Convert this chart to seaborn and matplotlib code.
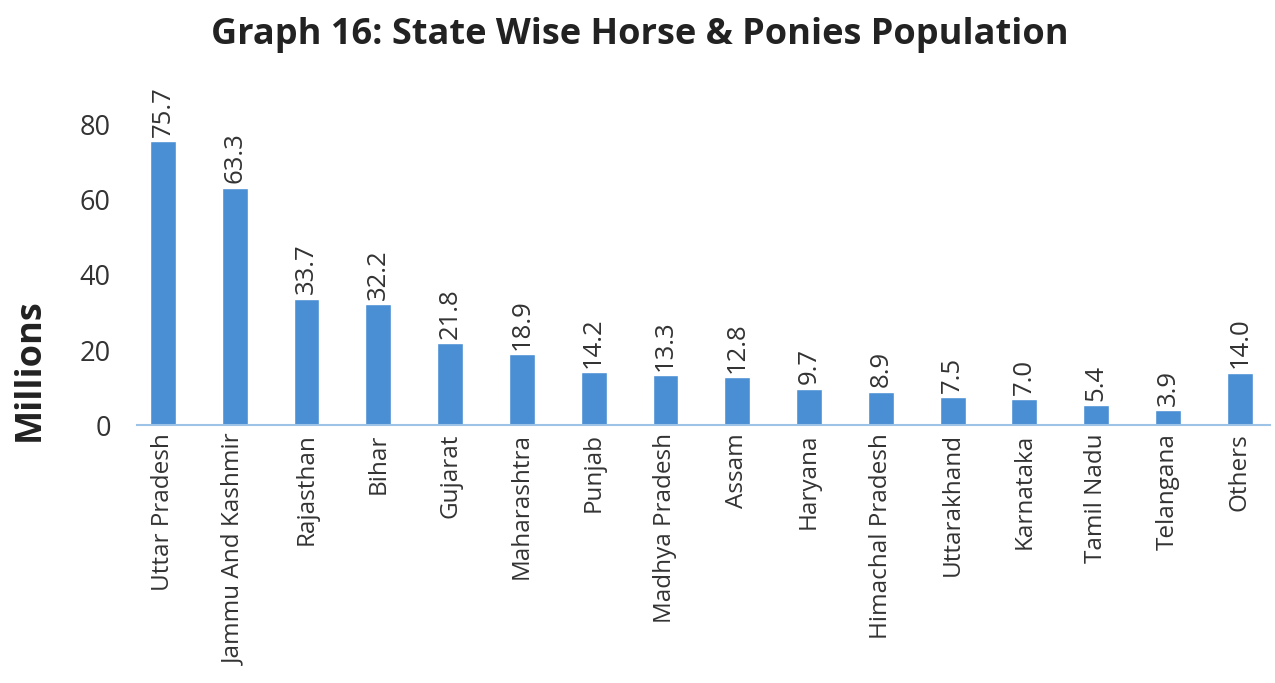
import matplotlib
matplotlib.use("Agg")
import matplotlib.pyplot as plt
import seaborn as sns
import pandas as pd

states = ["Uttar Pradesh", "Jammu And Kashmir", "Rajasthan", "Bihar", "Gujarat",
          "Maharashtra", "Punjab", "Madhya Pradesh", "Assam", "Haryana",
          "Himachal Pradesh", "Uttarakhand", "Karnataka", "Tamil Nadu",
          "Telangana", "Others"]
values = [75.7, 63.3, 33.7, 32.2, 21.8, 18.9, 14.2, 13.3, 12.8, 9.7, 8.9, 7.5,
          7.0, 5.4, 3.9, 14.0]
yticks = [0, 20, 40, 60, 80]

df = pd.DataFrame({"State": states, "Value": values})

sns.set_theme(style="white")
plt.rcParams['font.family'] = ['Open Sans', 'DejaVu Sans']

fig = plt.figure(figsize=(12.75, 6.83), dpi=100)
ax = fig.add_axes([0.1075, 0.3777, 0.8885, 0.4943])

sns.barplot(data=df, x="State", y="Value", color="#4A8FD4", width=0.36,
            saturation=1, ax=ax)

for c in ax.containers:
    ax.bar_label(c, labels=[f"{v:.1f}" for v in values], rotation=90,
                 padding=3, fontsize=18.5, color="#333333")

ax.set_ylim(0, 90)
ax.set_xlim(-0.36, 15.42)
ax.set_yticks(yticks)
ax.tick_params(axis="y", length=0, pad=19, labelsize=19.5, labelcolor="#333333")
ax.tick_params(axis="x", length=0, pad=6, labelsize=17.5, labelcolor="#333333")
plt.setp(ax.get_xticklabels(), rotation=90)

for s in ["top", "right", "left"]:
    ax.spines[s].set_visible(False)
ax.spines["bottom"].set_color("#9DC3E6")
ax.spines["bottom"].set_linewidth(1.5)

ax.set_xlabel("")
ax.set_ylabel("Millions", fontsize=26, fontweight="bold", color="#222222")
ax.yaxis.set_label_coords(-0.079, 0.163)

fig.suptitle("Graph 16: State Wise Horse & Ponies Population", fontsize=26,
             fontweight="bold", color="#222222", x=0.502, y=0.975)

fig.savefig("out.png", dpi=100)
